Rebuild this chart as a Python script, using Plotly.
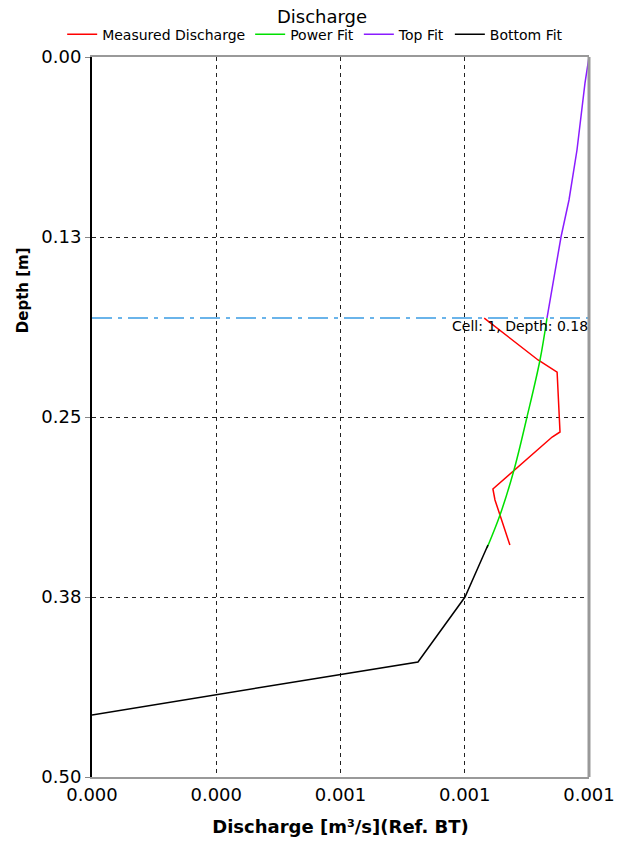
import plotly.graph_objects as go

# ---- data ----
measured_q = [0.000947, 0.001077, 0.001123, 0.001130, 0.001111, 0.000968, 0.000973, 0.001009]
measured_d = [0.1813, 0.2104, 0.2188, 0.2604, 0.2639, 0.3000, 0.3076, 0.3389]

power_q = [0.0010986, 0.0010817, 0.0010503, 0.0010189, 0.0009851, 0.0009537]
power_d = [0.1813, 0.2104, 0.2500, 0.2868, 0.3181, 0.3410]

top_q = [0.0012000, 0.0011903, 0.0011710, 0.0011517, 0.0011324, 0.0010986]
top_d = [0.0000, 0.0181, 0.0646, 0.0993, 0.1250, 0.1813]

bottom_q = [0.0009561, 0.0009368, 0.0009175, 0.0009006, 0.0007871, 0.0000]
bottom_d = [0.3389, 0.3514, 0.3632, 0.3750, 0.4201, 0.4569]

cell_depth = 0.1813
cell_label = "Cell: 1, Depth: 0.18"

x_range = [0, 0.0012]
x_dtick = 0.0003
y_range = [0.5, 0]
y_dtick = 0.125

FONT = "DejaVu Sans"

fig = go.Figure()
fig.add_trace(go.Scatter(x=measured_q, y=measured_d, mode="lines", name="Measured Discharge",
                         line=dict(color="#ff0000", width=1.5)))
fig.add_trace(go.Scatter(x=power_q, y=power_d, mode="lines", name="Power Fit",
                         line=dict(color="#00e000", width=1.5, shape="spline")))
fig.add_trace(go.Scatter(x=top_q, y=top_d, mode="lines", name="Top Fit",
                         line=dict(color="#8a1cff", width=1.5)))
fig.add_trace(go.Scatter(x=bottom_q, y=bottom_d, mode="lines", name="Bottom Fit",
                         line=dict(color="#000000", width=1.5)))

# cell depth line
fig.add_shape(type="line", xref="paper", x0=0, x1=1, yref="y", y0=cell_depth, y1=cell_depth,
              line=dict(color="#6ab4ea", width=2, dash="20px,6px,4px,6px"))
fig.add_annotation(xref="paper", x=1, yref="y", y=cell_depth, xanchor="right", yanchor="top",
                   text=cell_label, showarrow=False, font=dict(family=FONT, size=14, color="#000"),
                   borderpad=0, yshift=1)
# right frame (gray)
fig.add_shape(type="line", xref="paper", x0=1, x1=1, yref="paper", y0=0, y1=1,
              line=dict(color="#999999", width=3))

# y title as annotation
fig.add_annotation(xref="paper", x=-0.139, xanchor="center", yref="paper", y=0.676, yanchor="middle",
                   text="<b>Depth [m]</b>", textangle=-90, showarrow=False,
                   font=dict(family=FONT, size=15, color="#000"))

fig.update_layout(
    width=618, height=848,
    margin=dict(l=92, r=29, t=57, b=71, autoexpand=False),
    paper_bgcolor="white", plot_bgcolor="white",
    title=dict(text="Discharge", x=322 / 618, xanchor="center", y=1 - 17 / 848, yanchor="middle",
               yref="container", font=dict(family=FONT, size=18, color="#000")),
    legend=dict(orientation="h", x=-0.06, xanchor="left", y=1.031, yanchor="middle",
                font=dict(family=FONT, size=14, color="#000"), bgcolor="rgba(0,0,0,0)",
                itemwidth=30, tracegroupgap=0),
    showlegend=True,
    font=dict(family=FONT, color="#000"),
)
fig.update_xaxes(range=x_range, dtick=x_dtick, tick0=0, tickformat=".3f", automargin=False,
                 showgrid=True, gridcolor="#222", griddash="4px,4px", gridwidth=1,
                 showline=True, linecolor="#999999", linewidth=2, mirror=True,
                 ticks="", zeroline=False,
                 tickfont=dict(family=FONT, size=18, color="#000"),
                 title=dict(text="<b>Discharge [m³/s](Ref. BT)</b>", standoff=17,
                            font=dict(family=FONT, size=18, color="#000")))
fig.update_yaxes(range=y_range, dtick=y_dtick, tick0=0, tickformat=".2f", automargin=False,
                 showgrid=True, gridcolor="#222", griddash="4px,4px", gridwidth=1,
                 showline=True, linecolor="#000", linewidth=2, mirror=False,
                 ticks="outside", ticklen=5, tickcolor="#888", zeroline=False,
                 tickfont=dict(family=FONT, size=18, color="#000"))

fig.write_html("out.html", config={"displayModeBar": False},
               post_script="document.body.style.margin='0px';")
